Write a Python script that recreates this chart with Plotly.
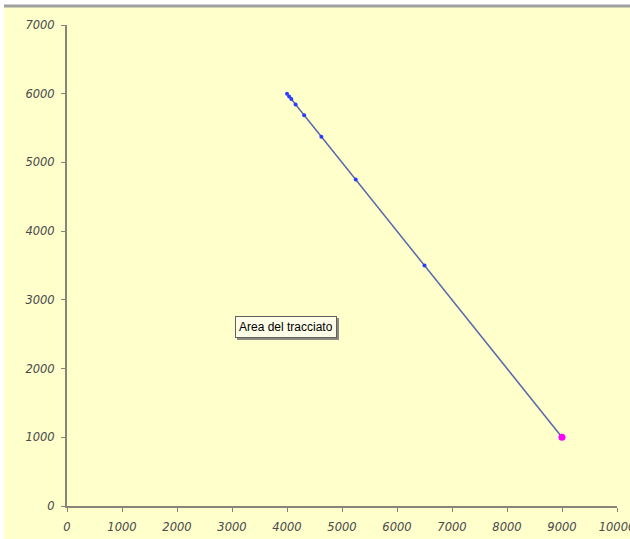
import plotly.graph_objects as go

# Data
x_vals = [4000, 4039, 4078, 4156, 4312, 4625, 5250, 6500, 9000]
y_vals = [6000, 5961, 5922, 5844, 5688, 5375, 4750, 3500, 1000]
end_x = [9000]
end_y = [1000]
x_ticks = [0, 1000, 2000, 3000, 4000, 5000, 6000, 7000, 8000, 9000, 10000]
y_ticks = [0, 1000, 2000, 3000, 4000, 5000, 6000, 7000]
tooltip_text = "Area del tracciato"

W, H = 630, 539
L, R, T, B = 67, 13, 25, 33
pw = W - L - R
ph = H - T - B

def px2x(px):
    return (px - L) / pw

def py2y(py):
    return (H - B - py) / ph

fig = go.Figure()
fig.add_trace(go.Scatter(
    x=x_vals, y=y_vals, mode="lines+markers",
    line=dict(color="#5868a8", width=1.5),
    marker=dict(color="#2b3cff", size=4),
    hoverinfo="skip", showlegend=False))
fig.add_trace(go.Scatter(
    x=end_x, y=end_y, mode="markers",
    marker=dict(color="#ff00ff", size=7),
    hoverinfo="skip", showlegend=False))

tick_font = dict(family="DejaVu Sans, sans-serif", size=11.5,
                 color="#4a4a4a", style="italic")
axis_common = dict(
    showgrid=False, zeroline=False, showline=True,
    linecolor="#85857a", linewidth=2,
    ticks="outside", ticklen=4, tickcolor="#85857a", tickwidth=1,
    tickfont=tick_font, ticklabeloverflow="allow", automargin=False,
)

fig.update_layout(
    width=W, height=H,
    margin=dict(l=L, r=R, t=T, b=B, autoexpand=False),
    paper_bgcolor="white",
    plot_bgcolor="rgba(0,0,0,0)",
    xaxis=dict(range=[0, 10000], tickvals=x_ticks,
               ticktext=[str(v) for v in x_ticks],
               ticklabelstandoff=5, **axis_common),
    yaxis=dict(range=[0, 7000], tickvals=y_ticks,
               ticktext=[str(v) for v in y_ticks],
               ticklabelstandoff=4, **axis_common),
    shapes=[
        dict(type="rect", xref="paper", yref="paper",
             x0=px2x(4), x1=px2x(640), y0=py2y(6), y1=py2y(545),
             fillcolor="#FFFFCC", line=dict(width=0), layer="below"),
        dict(type="line", xref="paper", yref="paper",
             x0=px2x(4), x1=px2x(640), y0=py2y(6), y1=py2y(6),
             line=dict(color="#a0a0a0", width=3), layer="above"),
    ],
)

# tooltip shadow + tooltip box
fig.add_annotation(
    x=px2x(288), y=py2y(329), xref="paper", yref="paper",
    text=tooltip_text, showarrow=False,
    font=dict(family="Liberation Sans, Arial, sans-serif", size=12, color="rgba(0,0,0,0)"),
    bgcolor="#8a8a80", bordercolor="#8a8a80", borderwidth=1, borderpad=3)
fig.add_annotation(
    x=px2x(286), y=py2y(327), xref="paper", yref="paper",
    text=tooltip_text, showarrow=False,
    font=dict(family="Liberation Sans, Arial, sans-serif", size=12, color="#000000"),
    bgcolor="#fdfde8", bordercolor="#606060", borderwidth=1, borderpad=3)

fig.write_html("out.html")
